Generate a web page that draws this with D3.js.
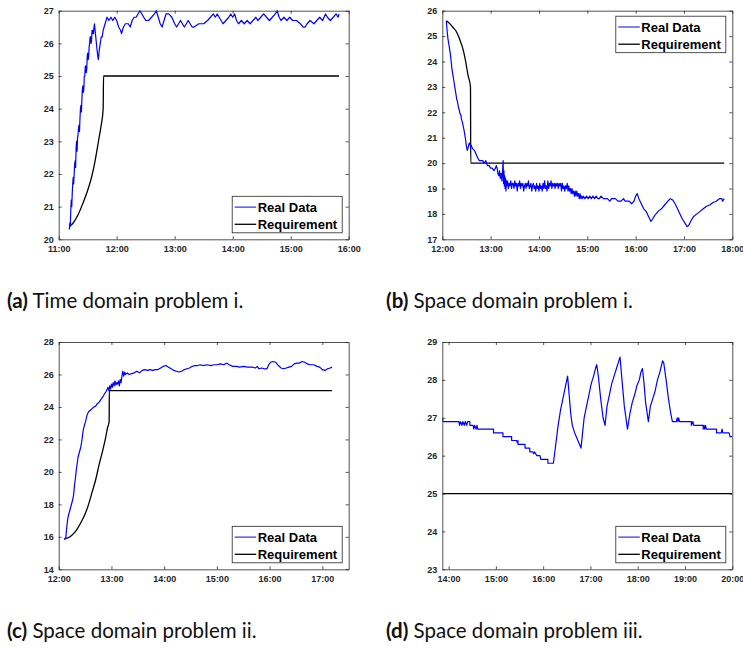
<!DOCTYPE html>
<html><head><meta charset="utf-8">
<script src="https://cdn.jsdelivr.net/npm/d3@7"></script>
<style>body{margin:0;background:#fff}</style>
</head><body>
<svg id="chart" width="743" height="648"></svg>
<script>
// ---------------- DATA ----------------
const legendLabels = ["Real Data", "Requirement"];
const captionTags = ["(a)", "(b)", "(c)", "(d)"];
const captionTexts = [" Time domain problem i.", " Space domain problem i.", " Space domain problem ii.", " Space domain problem iii."];

const aXTicks = ["11:00","12:00","13:00","14:00","15:00","16:00"];
const aYTicks = [20,21,22,23,24,25,26,27];
const bXTicks = ["12:00","13:00","14:00","15:00","16:00","17:00","18:00"];
const bYTicks = [17,18,19,20,21,22,23,24,25,26];
const cXTicks = ["12:00","13:00","14:00","15:00","16:00","17:00"];
const cYTicks = [14,16,18,20,22,24,26,28];
const dXTicks = ["14:00","15:00","16:00","17:00","18:00","19:00","20:00"];
const dYTicks = [23,24,25,26,27,28,29];

const aXRange = ["11:00","16:00"], aYRange = [20,27];
const bXRange = ["12:00","18:00"], bYRange = [17,26];
const cXRange = ["12:00","17:30"], cYRange = [14,28];
const dXRange = ["13:52","20:00"], dYRange = [23,29];

const aReal = [["11:11",20.3],["11:11.5",20.5],["11:12",20.4],["11:12.5",20.9],["11:13",21.2],["11:13.5",21.0],["11:14",21.4],["11:14.5",21.7],["11:15",21.9],["11:15.5",21.7],["11:16",22.0],["11:16.5",22.3],["11:17",22.4],["11:17.5",22.2],["11:18",22.8],["11:18.5",23.0],["11:19",22.7],["11:19.5",23.1],["11:20",23.2],["11:20.5",23.4],["11:21",23.5],["11:21.5",23.3],["11:22",23.7],["11:22.5",24.0],["11:23",24.1],["11:23.5",23.9],["11:24",24.3],["11:24.5",24.6],["11:25",24.7],["11:25.5",24.5],["11:26",24.6],["11:26.5",25.0],["11:27",25.0],["11:27.5",25.3],["11:28",25.3],["11:28.5",25.1],["11:29",25.2],["11:29.5",25.6],["11:30",25.7],["11:30.5",25.5],["11:31",25.6],["11:31.5",25.9],["11:32",26.0],["11:32.5",26.2],["11:33",26.2],["11:33.5",26.0],["11:34",26.1],["11:34.5",26.4],["11:35",26.4],["11:35.5",26.3],["11:36",26.3],["11:36.5",26.5],["11:37",26.6],["11:38",26.3],["11:39",26.0],["11:40",25.7],["11:41",25.5],["11:42",25.8],["11:43",26.0],["11:44",26.2],["11:45",26.2],["11:46",26.4],["11:47",26.5],["11:48",26.6],["11:49",26.7],["11:50",26.8],["11:52",26.7],["11:54",26.8],["11:56",26.7],["11:58",26.8],["12:00",26.7],["12:02",26.5],["12:04",26.4],["12:05",26.3],["12:07",26.5],["12:09",26.6],["12:12",26.6],["12:14",26.5],["12:16",26.7],["12:18",26.8],["12:20",26.8],["12:22",26.9],["12:24",27.0],["12:26",26.9],["12:28",26.8],["12:30",26.7],["12:33",26.7],["12:36",26.8],["12:39",26.9],["12:41",27.0],["12:43",26.8],["12:45",26.6],["12:47",26.5],["12:49",26.7],["12:51",26.9],["12:54",26.9],["12:57",26.8],["13:00",26.6],["13:02",26.5],["13:04",26.6],["13:06",26.7],["13:08",26.6],["13:10",26.5],["13:12",26.6],["13:14",26.7],["13:16",26.6],["13:18",26.5],["13:20",26.5],["13:25",26.6],["13:30",26.6],["13:34",26.7],["13:37",26.8],["13:40",26.9],["13:42",26.8],["13:44",26.9],["13:46",26.8],["13:48",26.7],["13:50",26.6],["13:53",26.7],["13:56",26.8],["13:58",26.9],["14:00",26.8],["14:02",26.9],["14:04",26.7],["14:06",26.6],["14:09",26.7],["14:12",26.6],["14:15",26.7],["14:18",26.6],["14:21",26.7],["14:24",26.8],["14:26",26.7],["14:29",26.8],["14:32",26.9],["14:35",26.8],["14:38",26.7],["14:41",26.8],["14:44",26.9],["14:46",27.0],["14:48",26.8],["14:50",26.7],["14:53",26.8],["14:56",26.7],["14:59",26.8],["15:02",26.7],["15:06",26.7],["15:10",26.6],["15:13",26.5],["15:15",26.5],["15:17",26.6],["15:20",26.7],["15:24",26.6],["15:27",26.7],["15:30",26.8],["15:33",26.7],["15:36",26.9],["15:38",26.8],["15:41",26.7],["15:44",26.8],["15:47",26.9],["15:49",26.8],["15:50",26.9]];
const aReq = [["11:11",20.4],["11:15",20.5],["11:20",20.75],["11:25",21.1],["11:30",21.5],["11:34",21.9],["11:37",22.3],["11:40",22.8],["11:42",23.15],["11:44",23.5],["11:46",24.0],["11:46.4",25.0],["15:50",25.0]];

const bReal = [["12:05",25.6],["12:06",25.2],["12:07",24.9],["12:08",24.7],["12:09",24.5],["12:10",24.3],["12:11",24.0],["12:12",23.7],["12:13",23.5],["12:14",23.3],["12:15",23.1],["12:16",22.9],["12:17",22.7],["12:18",22.5],["12:19",22.4],["12:20",22.2],["12:21",22.1],["12:22",21.95],["12:23",21.9],["12:24",21.7],["12:25",21.6],["12:26",21.45],["12:27",21.3],["12:28",21.1],["12:29",20.9],["12:30",20.65],["12:31",20.5],["12:32",20.6],["12:33",20.75],["12:34",20.8],["12:35",20.65],["12:36",20.7],["12:37",20.6],["12:38",20.55],["12:40",20.5],["12:42",20.35],["12:44",20.2],["12:46",20.1],["12:48",20.1],["12:50",20.1],["12:52",20.0],["12:54",20.1],["12:56",19.9],["12:58",19.9],["13:00",19.8],["13:02",19.8],["13:04",19.7],["13:06",19.8],["13:07",19.9],["13:08",19.8],["13:09",19.6],["13:10",19.5],["13:11",19.7],["13:12",19.4],["13:13",19.6],["13:14",19.3],["13:15",19.8],["13:15.5",20.1],["13:16",19.2],["13:16.5",19.7],["13:17",19.1],["13:17.5",19.5],["13:18",19.0],["13:18.5",19.4],["13:19",18.9],["13:19.5",19.3],["13:20",19.1],["13:21",19.3],["13:22",19.0],["13:23",19.2],["13:24",19.1],["13:25",19.3],["13:26",19.0],["13:27",19.2],["13:28",19.2],["13:29",19.0],["13:30",19.3],["13:31",19.1],["13:32",19.2],["13:33",18.9],["13:34",19.2],["13:35",19.1],["13:36",19.3],["13:37",19.0],["13:38",19.2],["13:39",19.1],["13:40",19.2],["13:41",18.9],["13:42",19.1],["13:43",19.2],["13:44",19.0],["13:45",19.2],["13:46",19.1],["13:47",19.3],["13:48",19.0],["13:49",19.1],["13:50",19.2],["13:51",18.9],["13:52",19.1],["13:53",19.2],["13:54",19.0],["13:55",19.1],["13:56",18.9],["13:57",19.2],["13:58",19.0],["13:59",19.1],["14:00",18.9],["14:01",19.2],["14:02",19.0],["14:03",19.1],["14:04",18.9],["14:05",19.2],["14:06",19.0],["14:07",19.3],["14:08",19.0],["14:09",19.1],["14:10",18.9],["14:11",19.3],["14:12",19.0],["14:13",19.2],["14:14",19.1],["14:15",19.3],["14:16",19.0],["14:17",19.2],["14:18",19.1],["14:19",19.2],["14:20",19.0],["14:21",19.2],["14:22",19.1],["14:23",19.2],["14:24",19.0],["14:25",19.2],["14:26",19.1],["14:27",19.2],["14:28",18.9],["14:29",19.2],["14:30",19.0],["14:31",19.1],["14:32",18.9],["14:33",19.1],["14:34",19.0],["14:35",19.2],["14:36",18.9],["14:37",19.1],["14:38",18.9],["14:39",19.0],["14:40",18.8],["14:41",19.0],["14:42",18.8],["14:43",18.9],["14:44",18.7],["14:45",18.9],["14:46",18.7],["14:47",18.9],["14:48",18.7],["14:49",18.8],["14:50",18.6],["14:51",18.8],["14:52",18.6],["14:53",18.7],["14:54",18.6],["14:55",18.7],["14:57",18.6],["14:59",18.7],["15:01",18.6],["15:03",18.7],["15:05",18.6],["15:07",18.7],["15:09",18.6],["15:11",18.7],["15:13",18.6],["15:15",18.6],["15:17",18.7],["15:20",18.6],["15:25",18.6],["15:28",18.5],["15:30",18.6],["15:35",18.6],["15:38",18.5],["15:42",18.5],["15:45",18.6],["15:47",18.5],["15:52",18.5],["15:55",18.4],["15:58",18.5],["16:00",18.7],["16:02",18.8],["16:04",18.6],["16:07",18.4],["16:10",18.2],["16:13",18.1],["16:16",17.9],["16:19",17.7],["16:21",17.8],["16:24",17.95],["16:28",18.1],["16:32",18.2],["16:36",18.35],["16:40",18.5],["16:43",18.6],["16:46",18.55],["16:49",18.4],["16:52",18.2],["16:55",18.0],["16:58",17.8],["17:02",17.6],["17:04",17.5],["17:06",17.55],["17:09",17.75],["17:12",17.9],["17:16",18.0],["17:20",18.1],["17:24",18.2],["17:28",18.3],["17:32",18.35],["17:36",18.45],["17:40",18.5],["17:44",18.6],["17:47",18.6],["17:48",18.5],["17:50",18.6]];
const bReq = [["12:05",25.6],["12:09",25.5],["12:13",25.35],["12:17",25.2],["12:20",25.0],["12:23",24.75],["12:26",24.45],["12:29",24.0],["12:32",23.45],["12:35",23.0],["12:35.3",20.0],["17:50",20.0]];

const cReal = [["12:06",15.9],["12:07",15.85],["12:08",15.9],["12:09",16.5],["12:10",17.0],["12:11",17.3],["12:12",17.5],["12:13",17.7],["12:14",17.9],["12:15",18.1],["12:16",18.3],["12:17",18.6],["12:18",19.2],["12:19",19.6],["12:20",20.1],["12:21",20.5],["12:22",20.9],["12:23",21.1],["12:24",21.3],["12:25",21.5],["12:26",21.8],["12:27",22.2],["12:28",22.6],["12:29",22.8],["12:30",23.0],["12:31",23.2],["12:32",23.45],["12:33",23.6],["12:34",23.7],["12:36",23.8],["12:38",23.9],["12:40",24.0],["12:42",24.05],["12:44",24.2],["12:46",24.3],["12:48",24.45],["12:50",24.6],["12:52",24.8],["12:54",24.95],["12:56",25.2],["12:57",25.0],["12:58",25.3],["12:59",25.1],["13:00",25.4],["13:01",25.2],["13:02",25.5],["13:03",25.3],["13:04",25.6],["13:05",25.35],["13:06",25.5],["13:07",25.4],["13:08",25.6],["13:09",25.3],["13:10",25.7],["13:11",25.5],["13:12",25.9],["13:13",26.2],["13:14",25.9],["13:15",26.15],["13:16",26.0],["13:18",26.1],["13:20",26.0],["13:23",26.05],["13:26",26.1],["13:29",26.2],["13:32",26.1],["13:35",26.25],["13:38",26.3],["13:41",26.25],["13:44",26.3],["13:47",26.25],["13:50",26.3],["13:53",26.3],["13:56",26.4],["13:59",26.5],["14:02",26.55],["14:05",26.45],["14:08",26.35],["14:11",26.25],["14:14",26.2],["14:17",26.15],["14:20",26.2],["14:23",26.3],["14:26",26.35],["14:29",26.4],["14:32",26.5],["14:35",26.55],["14:38",26.55],["14:41",26.6],["14:45",26.55],["14:49",26.6],["14:53",26.55],["14:57",26.6],["15:00",26.6],["15:04",26.65],["15:08",26.6],["15:11",26.7],["15:14",26.6],["15:18",26.5],["15:22",26.5],["15:26",26.45],["15:30",26.5],["15:35",26.45],["15:40",26.45],["15:44",26.4],["15:46",26.5],["15:48",26.35],["15:51",26.4],["15:54",26.35],["15:57",26.35],["15:59",26.6],["16:01",26.75],["16:04",26.8],["16:07",26.75],["16:10",26.55],["16:13",26.4],["16:16",26.35],["16:19",26.4],["16:22",26.45],["16:25",26.5],["16:28",26.65],["16:31",26.7],["16:34",26.7],["16:37",26.8],["16:40",26.75],["16:43",26.65],["16:46",26.6],["16:50",26.6],["16:54",26.5],["16:57",26.45],["17:00",26.3],["17:03",26.25],["17:06",26.35],["17:09",26.4],["17:11",26.45]];
const cReq = [["12:07",15.9],["12:11",15.95],["12:15",16.1],["12:20",16.4],["12:25",16.85],["12:30",17.4],["12:34",18.0],["12:38",18.75],["12:42",19.5],["12:46",20.45],["12:50",21.3],["12:53",22.0],["12:55.5",22.7],["12:57.4",23.1],["12:57.6",25.0],["17:11",25.0]];

const dReal = [["13:52",27.0],["13:53",26.9],["14:13",26.9],["14:14",26.8],["14:15",26.9],["14:17",26.8],["14:18",26.9],["14:20",26.8],["14:21",26.9],["14:23",26.8],["14:24",26.9],["14:27",26.9],["14:27",26.8],["14:31",26.8],["14:32",26.7],["14:33",26.8],["14:35",26.7],["14:36",26.8],["14:37",26.7],["14:57",26.7],["14:57",26.6],["15:09",26.6],["15:09",26.5],["15:20",26.5],["15:20",26.4],["15:26",26.4],["15:27",26.35],["15:28",26.4],["15:28",26.3],["15:37",26.3],["15:37",26.2],["15:43",26.2],["15:43",26.1],["15:47",26.1],["15:48",26.05],["15:49",26.1],["15:52",26.0],["15:56",26.0],["15:57",25.9],["16:06",25.9],["16:06",25.8],["16:13",25.8],["16:16",26.3],["16:19",26.8],["16:22",27.2],["16:25",27.5],["16:28",27.8],["16:31",28.1],["16:33",27.6],["16:35",27.1],["16:37",26.8],["16:40",26.6],["16:43",26.45],["16:46",26.3],["16:48",26.2],["16:50",26.6],["16:52",27.0],["16:55",27.3],["16:58",27.6],["17:01",27.9],["17:04",28.1],["17:07",28.35],["17:08",28.4],["17:10",28.1],["17:13",27.5],["17:16",27.0],["17:18.5",26.8],["17:21",27.3],["17:24",27.6],["17:27",27.9],["17:30",28.1],["17:33",28.3],["17:36",28.5],["17:37.5",28.6],["17:40",28.0],["17:43",27.3],["17:47",26.7],["17:50",27.1],["17:53",27.4],["17:56",27.6],["17:59",27.85],["18:02",28.0],["18:04",28.2],["18:06",28.3],["18:08",27.9],["18:10",27.4],["18:13.5",26.9],["18:16",27.3],["18:19",27.5],["18:22",27.7],["18:25",28.0],["18:28",28.2],["18:31.5",28.5],["18:33",28.45],["18:36",28.0],["18:39",27.5],["18:42",27.1],["18:44",26.9],["18:49",26.9],["18:50",27.0],["18:51",26.9],["18:52",27.0],["18:53",26.9],["19:08",26.9],["19:08",26.8],["19:10",26.9],["19:11",26.8],["19:23",26.8],["19:23",26.7],["19:24",26.8],["19:25",26.7],["19:26",26.8],["19:27",26.7],["19:40",26.7],["19:40",26.6],["19:46",26.6],["19:47",26.7],["19:48",26.6],["19:56",26.6],["19:57",26.5],["20:00",26.5]];
const dReq = [["13:52",25.0],["20:00",25.0]];

// ---------------- DRAW ----------------
const hrs = s => { const p = s.split(":"); return +p[0] + parseFloat(p[1]) / 60; };
const svg = d3.select("#chart");
const FONT = "'Liberation Sans', Arial, Helvetica, sans-serif";
const AX = "#262626";

const panels = [
  {real:aReal, req:aReq, xr:aXRange, yr:aYRange, xt:aXTicks, yt:aYTicks, box:[58.7,10.7,348.7,239.3], leg:"br", cap:0},
  {real:bReal, req:bReq, xr:bXRange, yr:bYRange, xt:bXTicks, yt:bYTicks, box:[442.3,10.7,732.3,239.3], leg:"tr", cap:1},
  {real:cReal, req:cReq, xr:cXRange, yr:cYRange, xt:cXTicks, yt:cYTicks, box:[58.7,342,348.7,569.3], leg:"br", cap:2},
  {real:dReal, req:dReq, xr:dXRange, yr:dYRange, xt:dXTicks, yt:dYTicks, box:[442.3,342,732.3,569.3], leg:"br", cap:3}
];
const capPos = [[7,308],[386,308],[7,638],[386,638]];

panels.forEach((p, i) => {
  const [L, T, R, B] = p.box;
  const x = d3.scaleLinear().domain(p.xr.map(hrs)).range([L, R]);
  const y = d3.scaleLinear().domain(p.yr).range([B, T]);
  const g = svg.append("g");
  const clipId = "clip" + i;
  g.append("clipPath").attr("id", clipId).append("rect")
    .attr("x", L).attr("y", T - 1).attr("width", R - L).attr("height", B - T + 2);

  const line = d3.line().x(d => x(hrs(d[0]))).y(d => y(d[1]));
  const reqLine = d3.line().x(d => x(hrs(d[0]))).y(d => y(d[1])).curve(d3.curveMonotoneX);
  const plot = g.append("g").attr("clip-path", `url(#${clipId})`);
  plot.append("path").datum(p.req).attr("d", reqLine)
    .attr("fill", "none").attr("stroke", "#000").attr("stroke-width", 1.3);
  plot.append("path").datum(p.real).attr("d", line)
    .attr("fill", "none").attr("stroke", "#0000ff").attr("stroke-width", 1.2)
    .attr("stroke-linejoin", "round");

  // axes (MATLAB box style, ticks inward on all sides)
  const xTickVals = p.xt.map(hrs);
  const styleAxis = sel => {
    sel.select(".domain").attr("stroke", AX).attr("stroke-width", 0.8);
    sel.selectAll(".tick line").attr("stroke", AX).attr("stroke-width", 0.8);
    sel.selectAll("text").attr("fill", AX).style("font-family", FONT)
      .style("font-weight", "bold").style("font-size", "9px");
  };
  const fmt = v => p.xt[xTickVals.indexOf(v)];
  g.append("g").attr("transform", `translate(0,${B})`)
    .call(d3.axisBottom(x).tickValues(xTickVals).tickFormat(fmt).tickSizeInner(-3).tickSizeOuter(0).tickPadding(6))
    .call(styleAxis);
  g.append("g").attr("transform", `translate(0,${T})`)
    .call(d3.axisTop(x).tickValues(xTickVals).tickFormat("").tickSizeInner(-3).tickSizeOuter(0))
    .call(styleAxis);
  g.append("g").attr("transform", `translate(${L},0)`)
    .call(d3.axisLeft(y).tickValues(p.yt).tickFormat(d3.format("d")).tickSizeInner(-3).tickSizeOuter(0).tickPadding(5))
    .call(styleAxis);
  g.append("g").attr("transform", `translate(${R},0)`)
    .call(d3.axisRight(y).tickValues(p.yt).tickFormat("").tickSizeInner(-3).tickSizeOuter(0))
    .call(styleAxis);

  // legend
  const lw = 110, lh = 36.5;
  const lx = R - 6.5 - lw;
  const ly = p.leg === "tr" ? T + 5.5 : B - 6.5 - lh;
  const lg = g.append("g").attr("transform", `translate(${lx},${ly})`);
  lg.append("rect").attr("width", lw).attr("height", lh)
    .attr("fill", "#fff").attr("stroke", AX).attr("stroke-width", 0.8);
  const legColors = ["#0000ff", "#000"];
  legendLabels.forEach((lab, k) => {
    const cy = 10.8 + k * 17.2;
    lg.append("line").attr("x1", 2.5).attr("x2", 24).attr("y1", cy).attr("y2", cy)
      .attr("stroke", legColors[k]).attr("stroke-width", k ? 1.3 : 1);
    lg.append("text").attr("x", 25.5).attr("y", cy + 4.6).text(lab)
      .style("font-family", FONT).style("font-weight", "bold").style("font-size", "13px").attr("fill", "#000");
  });

  // caption
  const cp = capPos[p.cap];
  const ct = svg.append("text").attr("x", cp[0]).attr("y", cp[1])
    .style("font-family", "Lato, 'Open Sans', sans-serif").style("font-size", "20.5px").attr("fill", "#111");
  ct.append("tspan").style("font-weight", "bold").text(captionTags[p.cap]);
  ct.append("tspan").text(captionTexts[p.cap]);
});
</script>
</body></html>
